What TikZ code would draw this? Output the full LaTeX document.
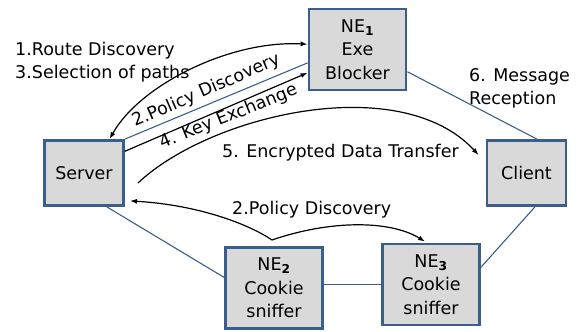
\documentclass[tikz,border=0pt]{standalone}
\usepackage{fontspec}
\setmainfont{DejaVu Sans}
\usetikzlibrary{calc,arrows.meta}
\definecolor{nodeblue}{HTML}{3B5E8C}
\definecolor{nodegray}{HTML}{D9D9D9}

\begin{document}
\begin{tikzpicture}[x=1pt, y=-1pt, >={Latex[length=7pt,width=5pt]},
  every node/.style={font=\fontsize{17.5}{23.5}\selectfont},
  box/.style={draw=nodeblue, fill=nodegray, line width=2.8pt, align=center, inner sep=0pt, minimum width=97pt, minimum height=81pt},
  endbox/.style={box, minimum width=79pt, minimum height=65pt},
  link/.style={nodeblue, line width=1.1pt},
  flow/.style={black, line width=1.2pt, ->}]
  \useasboundingbox (0,0) rectangle (579,332);
  \node[box] (ne1) at (357.5,49.5) {NE\textsubscript{\textbf{1}}\\Exe\\Blocker};
  \node[endbox] (srv) at (84,173) {Server};
  \node[endbox] (cli) at (526.5,173) {Client};
  \node[box] (ne2) at (274,288) {NE\textsubscript{\textbf{2}}\\Cookie\\sniffer};
  \node[box] (ne3) at (431,284.5) {NE\textsubscript{\textbf{3}}\\Cookie\\sniffer};
  \draw[link] (srv.north east) -- (ne1.195);
  \draw[link] (ne1.336) -- (cli.73);
  \draw[link] (srv.304) -- (ne2.168);
  \draw[link] (ne2.east |- ne3.west) -- (ne3.west);
  \draw[link] (ne3.19) -- (cli.284);
  \draw[flow, <->] (srv.53) .. controls (140,85) and (230,40) .. (ne1.174);
  \draw[flow] (srv.28) -- (ne1.205);
  \coordinate (s5) at (138,183);
  \draw[flow] (s5) .. controls (210,115) and (400,70) .. ($(cli.west)+(-7,-18)$);
  \coordinate (kk) at (272,240);
  \draw[flow] (kk) .. controls (250,225) and (200,205) .. ($(srv.south east)+(5,-6)$);
  \draw[flow] (kk) .. controls (330,220) and (390,220) .. ($(ne3.north)+(-6,-1)$);
  \node[anchor=north west, inner sep=0pt, align=left] (l13) at (15,42) {1.Route Discovery\\3.Selection of paths};
  \node[anchor=base west, inner sep=0pt, rotate=23.5] (l2a) at (135,127) {2.Policy Discovery};
  \node[anchor=base west, inner sep=0pt, rotate=22] (l4) at (162,149) {4. Key Exchange};
  \node[anchor=base west, inner sep=0pt] (l5) at (222,157) {5. Encrypted Data Transfer};
  \node[anchor=north west, inner sep=0pt, align=left] (l6) at (469,68) {6. Message\\Reception};
  \node[anchor=base west, inner sep=0pt] (l2b) at (232,214) {2.Policy Discovery};
\end{tikzpicture}
\end{document}
